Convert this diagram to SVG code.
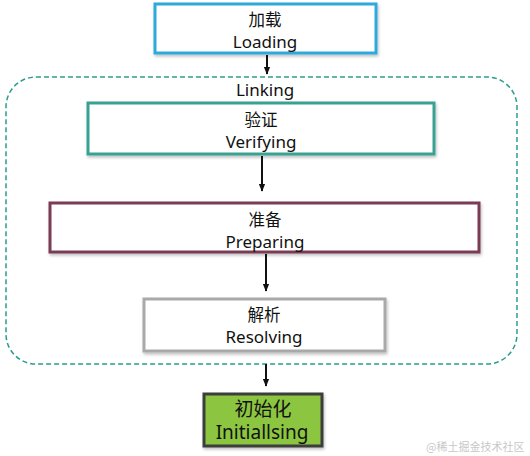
<svg xmlns="http://www.w3.org/2000/svg" width="530" height="456" viewBox="0 0 530 456">
<style>
.t{font-family:"Noto Sans","Noto Sans CJK SC",sans-serif;font-size:17px;fill:#111;text-anchor:middle}
.c{font-family:"Noto Sans CJK SC","Noto Sans",sans-serif;font-size:16.5px}
.big{font-size:19px}
.box{fill:#fff;stroke-width:3}
.wm{font-family:"Noto Sans CJK SC","Noto Sans",sans-serif;font-size:11px;fill:#c8c8c8}
</style>
<defs>
<filter id="sh" x="-10%" y="-20%" width="120%" height="150%">
<feDropShadow dx="1" dy="2" stdDeviation="1.5" flood-color="#000" flood-opacity="0.25"/>
</filter>
<marker id="ah" viewBox="0 0 10 10" refX="9" refY="5" markerWidth="8" markerHeight="8" markerUnits="userSpaceOnUse" orient="auto">
<path d="M0,1 L10,5 L0,9 z" fill="#111"/>
</marker>
</defs>
<rect width="530" height="456" fill="#fff"/>
<g id="linking">
<rect x="6" y="77" width="511" height="287" rx="30" ry="30" fill="none" stroke="#2a9d8f" stroke-width="1.5" stroke-dasharray="5,3"/>
<text class="t" x="265" y="96">Linking</text>
</g>
<g id="connectors" stroke="#111" stroke-width="2" fill="none">
<line x1="267" y1="55" x2="267" y2="74" marker-end="url(#ah)"/>
<line x1="262" y1="156" x2="262" y2="191" marker-end="url(#ah)"/>
<line x1="266" y1="254" x2="266" y2="291" marker-end="url(#ah)"/>
<line x1="266" y1="364" x2="266" y2="386" marker-end="url(#ah)"/>
</g>
<g id="loading">
<rect class="box" x="155" y="4" width="221" height="49" stroke="#2ea9db" filter="url(#sh)"/>
<text class="t c" x="265" y="26">加载</text>
<text class="t" x="265" y="48">Loading</text>
</g>
<g id="verifying">
<rect class="box" x="88" y="103" width="346" height="51" stroke="#38a192" filter="url(#sh)"/>
<text class="t c" x="261" y="126">验证</text>
<text class="t" x="261" y="148">Verifying</text>
</g>
<g id="preparing">
<rect class="box" x="50" y="203" width="429" height="49" stroke="#7a3b54" filter="url(#sh)"/>
<text class="t c" x="265" y="226">准备</text>
<text class="t" x="265" y="248">Preparing</text>
</g>
<g id="resolving">
<rect class="box" x="144" y="299" width="241" height="52" stroke="#a9a9a9" filter="url(#sh)"/>
<text class="t c" x="264" y="321">解析</text>
<text class="t" x="264" y="343">Resolving</text>
</g>
<g id="initialising">
<rect x="204" y="394" width="118" height="52" fill="#8cc540" stroke="#3d3d3d" stroke-width="3" filter="url(#sh)"/>
<text class="t c big" x="263" y="416">初始化</text>
<text class="t big" x="262" y="439">Initiallsing</text>
</g>
<text class="wm" x="426" y="451">@稀土掘金技术社区</text>
</svg>
